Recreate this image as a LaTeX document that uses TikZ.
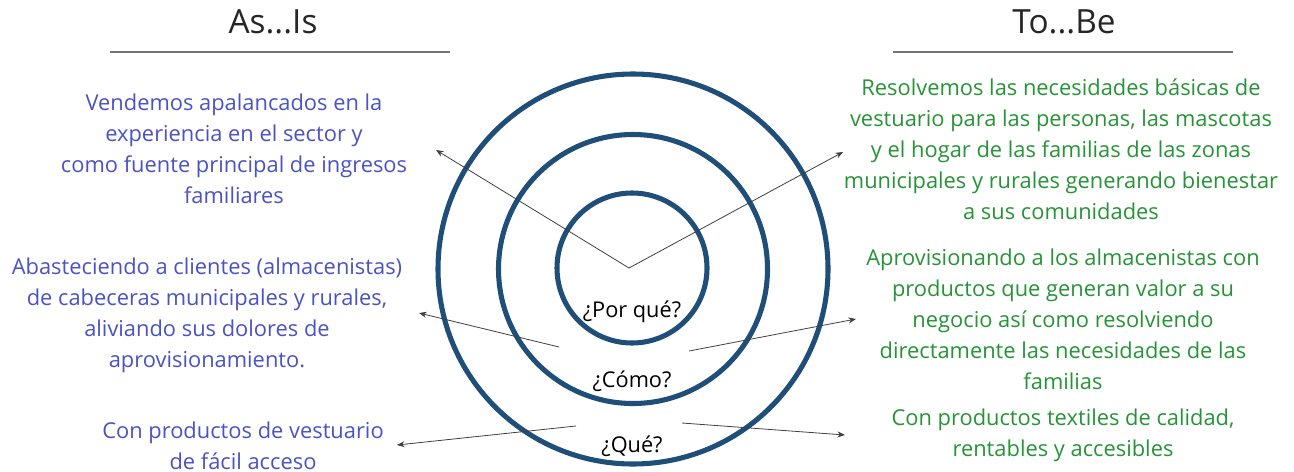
\documentclass[tikz,border=0pt]{standalone}
\usepackage{fontspec}
\setmainfont{Open Sans}
\usetikzlibrary{positioning,arrows.meta}
\definecolor{ringblue}{RGB}{31,78,121}
\definecolor{asblue}{RGB}{74,82,196}
\definecolor{togreen}{RGB}{38,148,54}
\definecolor{pointer}{RGB}{64,64,64}
\tikzset{
  ring/.style={circle,draw=ringblue,line width=3.8pt,inner sep=0pt},
  ptr/.style={-{Stealth[length=2mm,width=1.6mm]},line width=0.6pt,draw=pointer},
  asis/.style={align=center,text=asblue,font=\fontsize{16.4}{23.3}\selectfont},
  tobe/.style={align=center,text=togreen,font=\fontsize{16.4}{23.3}\selectfont},
  ttl/.style={font=\fontsize{25}{30}\selectfont,text=black!85},
  hrule/.style={line width=1pt,draw=black!55},
  qlbl/.style={font=\fontsize{16.3}{20}\selectfont},
}
\begin{document}
\begin{tikzpicture}[x=0.75pt,y=-0.75pt]
  \useasboundingbox (0,0) rectangle (1294,471);
  % golden circle
  \node[ring,minimum size=292.5pt] (outer) at (633,269) {};
  \node[ring,minimum size=201.75pt] (middle) at (633,269) {};
  \node[ring,minimum size=112.5pt] (inner) at (632,268) {};
  \node[qlbl] (why) at (632,312) {¿Por qué?};
  \node[qlbl] (how) at (632,381) {¿Cómo?};
  \node[qlbl] (what) at (632,446) {¿Qué?};
  % headings
  \node[ttl] (asis) at (273,22) {As...Is};
  \node[ttl] (tobe) at (1064,22) {To...Be};
  \draw[hrule] (110,52) -- (450,52);
  \draw[hrule] (893,52) -- (1233,52);
  % as-is texts
  \node[asis] (why-as) at (234,149) {Vendemos apalancados en la\\experiencia en el sector y\\como fuente principal de ingresos\\familiares};
  \node[asis] (how-as) at (207,315) {Abasteciendo a clientes (almacenistas)\\de cabeceras municipales y rurales,\\aliviando sus dolores de\\aprovisionamiento.};
  \node[asis] (what-as) at (243,446) {Con productos de vestuario\\de fácil acceso};
  % to-be texts
  \node[tobe] (why-to) at (1061,149.5) {Resolvemos las necesidades básicas de\\vestuario para las personas, las mascotas\\y el hogar de las familias de las zonas\\municipales y rurales generando bienestar\\a sus comunidades};
  \node[tobe] (how-to) at (1063,319) {Aprovisionando a los almacenistas con\\productos que generan valor a su\\negocio así como resolviendo\\directamente las necesidades de las\\familias};
  \node[tobe] (what-to) at (1063,435) {Con productos textiles de calidad,\\rentables y accesibles};
  % pointers
  \coordinate (why-src) at (629,268);
  \coordinate (why-l) at (436,150);
  \coordinate (why-r) at (843,152);
  \coordinate (how-srcl) at (559,347);
  \coordinate (how-l) at (419,313);
  \coordinate (how-srcr) at (689,351);
  \coordinate (how-r) at (856,319);
  \coordinate (what-srcl) at (576,426);
  \coordinate (what-l) at (397,445);
  \coordinate (what-srcr) at (682,423);
  \coordinate (what-r) at (845,435);
  \draw[ptr] (why-src) -- (why-l);
  \draw[ptr] (why-src) -- (why-r);
  \draw[ptr] (how-srcl) -- (how-l);
  \draw[ptr] (how-srcr) -- (how-r);
  \draw[ptr] (what-srcl) -- (what-l);
  \draw[ptr] (what-srcr) -- (what-r);
\end{tikzpicture}
\end{document}
